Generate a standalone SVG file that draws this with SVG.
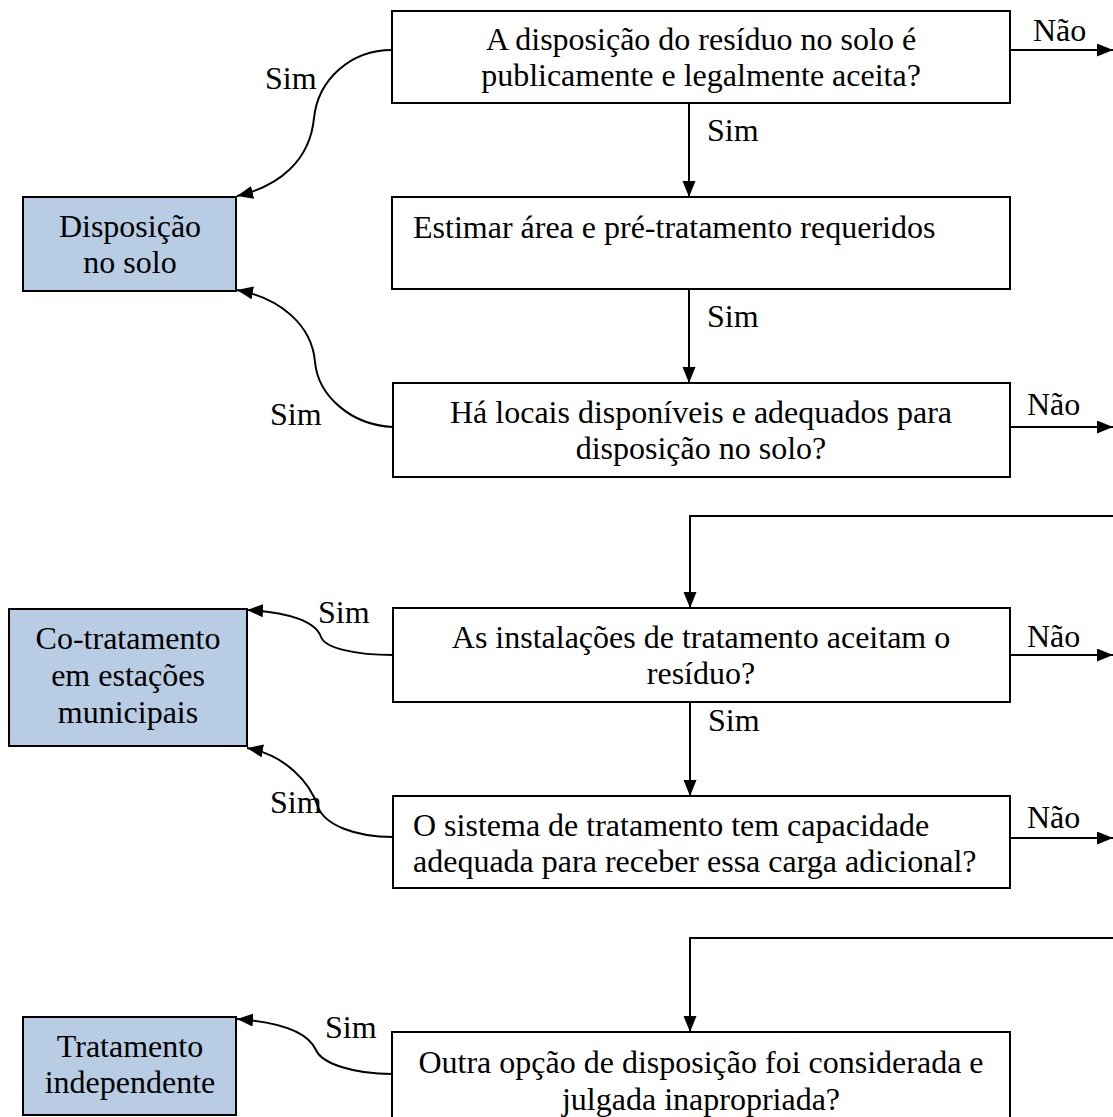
<svg xmlns="http://www.w3.org/2000/svg" width="1113" height="1117" viewBox="0 0 1113 1117">
  <defs>
    <marker id="arrow" markerUnits="userSpaceOnUse" markerWidth="18" markerHeight="14" refX="16" refY="6.5" orient="auto">
      <path d="M0,0 L16,6.5 L0,13 z" fill="#000"/>
    </marker>
    <style>
      .t { font-size: 32px; fill: #000; }
      .c { text-anchor: middle; }
      .box { fill: #fff; stroke: #000; stroke-width: 2; }
      .out { fill: #b8cce4; stroke: #000; stroke-width: 2; }
      .edge { fill: none; stroke: #000; stroke-width: 2; marker-end: url(#arrow); }
    </style>
  </defs>

  <rect width="1113" height="1117" fill="#fff"/>

  <!-- connectors -->
  <g id="connectors">
    <!-- Sim arrows down the main column -->
    <path class="edge" d="M689,103 L689,197"/>
    <path class="edge" d="M689,289 L689,383"/>
    <path class="edge" d="M690,702 L690,796"/>
    <!-- feed-ins from the right -->
    <path class="edge" d="M1113,516 L690,516 L690,608"/>
    <path class="edge" d="M1113,938 L690,938 L690,1032"/>
    <!-- Não exits -->
    <path class="edge" d="M1010,50 L1113,50"/>
    <path class="edge" d="M1010,427 L1113,427"/>
    <path class="edge" d="M1010,655 L1113,655"/>
    <path class="edge" d="M1010,838 L1113,838"/>
    <!-- Sim curves to the outcome boxes -->
    <path class="edge" d="M392,50 C350,50 318,80 314,118 C310,160 280,186 237,196"/>
    <path class="edge" d="M393,427 C350,425 318,395 315,362 C312,325 280,298 237,290"/>
    <path class="edge" d="M393,655 C355,655 325,648 321,637 C316,622 290,612 247,610"/>
    <path class="edge" d="M393,837 C355,837 325,825 318,807 C310,782 285,755 247,748"/>
    <path class="edge" d="M392,1074 C355,1074 322,1064 316,1050 C308,1032 280,1022 237,1019"/>
  </g>

  <g font-family="'Liberation Serif', 'Times New Roman', serif">
    <!-- connector labels -->
    <g id="labels" class="t">
      <text x="707" y="141">Sim</text>
      <text x="707" y="327">Sim</text>
      <text x="708" y="731">Sim</text>
      <text x="265" y="89">Sim</text>
      <text x="270" y="425">Sim</text>
      <text x="318" y="623">Sim</text>
      <text x="270" y="813">Sim</text>
      <text x="325" y="1038">Sim</text>
      <text x="1033" y="41">Não</text>
      <text x="1027" y="415">Não</text>
      <text x="1027" y="647">Não</text>
      <text x="1027" y="828">Não</text>
    </g>

    <!-- decision / process boxes -->
    <g id="n1" class="t">
      <rect class="box" x="392" y="11" width="618" height="92"/>
      <text class="c" x="701" y="50">A disposição do resíduo no solo é</text>
      <text class="c" x="701" y="86">publicamente e legalmente aceita?</text>
    </g>
    <g id="n2" class="t">
      <rect class="box" x="392" y="197" width="618" height="92"/>
      <text x="413" y="238">Estimar área e pré-tratamento requeridos</text>
    </g>
    <g id="n3" class="t">
      <rect class="box" x="393" y="383" width="617" height="94"/>
      <text class="c" x="701" y="423">Há locais disponíveis e adequados para</text>
      <text class="c" x="701" y="459">disposição no solo?</text>
    </g>
    <g id="n4" class="t">
      <rect class="box" x="393" y="608" width="617" height="94"/>
      <text class="c" x="701" y="648">As instalações de tratamento aceitam o</text>
      <text class="c" x="701" y="684">resíduo?</text>
    </g>
    <g id="n5" class="t">
      <rect class="box" x="393" y="796" width="617" height="92"/>
      <text x="413" y="836">O sistema de tratamento tem capacidade</text>
      <text x="413" y="872">adequada para receber essa carga adicional?</text>
    </g>
    <g id="n6" class="t">
      <rect class="box" x="392" y="1032" width="618" height="100"/>
      <text class="c" x="701" y="1073">Outra opção de disposição foi considerada e</text>
      <text class="c" x="701" y="1110">julgada inapropriada?</text>
    </g>

    <!-- outcome boxes -->
    <g id="o1" class="t">
      <rect class="out" x="23" y="197" width="213" height="94"/>
      <text class="c" x="130" y="237">Disposição</text>
      <text class="c" x="130" y="273">no solo</text>
    </g>
    <g id="o2" class="t">
      <rect class="out" x="9" y="609" width="238" height="137"/>
      <text class="c" x="128" y="649">Co-tratamento</text>
      <text class="c" x="128" y="686">em estações</text>
      <text class="c" x="128" y="723">municipais</text>
    </g>
    <g id="o3" class="t">
      <rect class="out" x="23" y="1017" width="213" height="98"/>
      <text class="c" x="130" y="1057">Tratamento</text>
      <text class="c" x="130" y="1093">independente</text>
    </g>
  </g>
</svg>
